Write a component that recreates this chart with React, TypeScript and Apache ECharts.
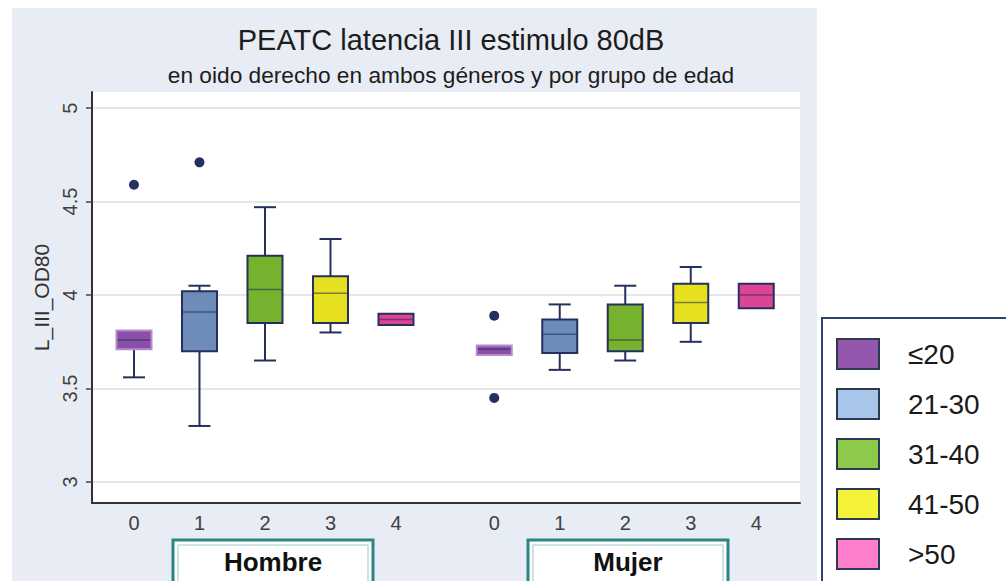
import React, { useEffect, useRef } from 'react';
import * as echarts from 'echarts';

const titleText = 'PEATC latencia III estimulo 80dB';
const subtitleText = 'en oido derecho en ambos géneros y por grupo de edad';
const yName = 'L_III_OD80';
const sexes = ['Hombre', 'Mujer'];
const ageGroups = ['≤20', '21-30', '31-40', '41-50', '>50'];
const tickLabels = ['0', '1', '2', '3', '4', '0', '1', '2', '3', '4'];
const xPositions = [0, 1, 2, 3, 4, 5.5, 6.5, 7.5, 8.5, 9.5];
const yTicks = [3, 3.5, 4, 4.5, 5];

// [min, Q1, median, Q3, max]
const hombreStats = [
  [3.56, 3.71, 3.76, 3.81, 3.81],
  [3.30, 3.70, 3.91, 4.02, 4.05],
  [3.65, 3.85, 4.03, 4.21, 4.47],
  [3.80, 3.85, 4.01, 4.10, 4.30],
  [3.84, 3.84, 3.87, 3.90, 3.90],
];
const mujerStats = [
  [3.68, 3.68, 3.71, 3.73, 3.73],
  [3.60, 3.69, 3.79, 3.87, 3.95],
  [3.65, 3.70, 3.76, 3.95, 4.05],
  [3.75, 3.85, 3.96, 4.06, 4.15],
  [3.93, 3.93, 4.00, 4.06, 4.06],
];
const outlierSex = [0, 0, 1, 1];
const outlierAge = [0, 1, 0, 0];
const outlierValues = [4.59, 4.71, 3.89, 3.45];

const FONT = '"Liberation Sans", Arial, sans-serif';
const boxColors = ['#8c4fa8', '#6d8cb7', '#77b22f', '#e6e01e', '#de4495'];
const legendColors = ['#9556ad', '#a9c5ea', '#8dca4b', '#f6f23a', '#ff7fcc'];
const NAVY = '#25305e';

export default function App() {
  const ref = useRef<HTMLDivElement>(null);

  useEffect(() => {
    if (!ref.current) return;
    const chart = echarts.init(ref.current, undefined, { renderer: 'svg' });

    const allStats = [hombreStats, mujerStats];
    const boxData: number[][] = [];
    allStats.forEach((stats, s) => {
      stats.forEach((st, a) => {
        boxData.push([xPositions[s * 5 + a], ...st, a]);
      });
    });
    const outlierData = outlierValues.map((v, i) => [xPositions[outlierSex[i] * 5 + outlierAge[i]], v]);

    const renderBox = (_params: any, api: any) => {
      const x = api.value(0);
      const lo = api.value(1), q1 = api.value(2), med = api.value(3), q3 = api.value(4), hi = api.value(5);
      const a = api.value(6);
      const pLo = api.coord([x, lo]);
      const pQ1 = api.coord([x, q1]);
      const pMed = api.coord([x, med]);
      const pQ3 = api.coord([x, q3]);
      const pHi = api.coord([x, hi]);
      const cx = pQ1[0];
      const hw = 17.5;
      const cw = 11;
      const children: any[] = [];
      const wStyle = { stroke: NAVY, lineWidth: 2 };
      if (hi > q3) {
        children.push({ type: 'line', shape: { x1: cx, y1: pQ3[1], x2: cx, y2: pHi[1] }, style: wStyle });
        children.push({ type: 'line', shape: { x1: cx - cw, y1: pHi[1], x2: cx + cw, y2: pHi[1] }, style: wStyle });
      }
      if (lo < q1) {
        children.push({ type: 'line', shape: { x1: cx, y1: pQ1[1], x2: cx, y2: pLo[1] }, style: wStyle });
        children.push({ type: 'line', shape: { x1: cx - cw, y1: pLo[1], x2: cx + cw, y2: pLo[1] }, style: wStyle });
      }
      children.push({
        type: 'rect',
        shape: { x: cx - hw, y: pQ3[1], width: hw * 2, height: pQ1[1] - pQ3[1] },
        style: { fill: boxColors[a], stroke: a === 0 ? '#b58ccc' : NAVY, lineWidth: 2 },
      });
      children.push({
        type: 'line',
        shape: { x1: cx - hw + 1, y1: pMed[1], x2: cx + hw - 1, y2: pMed[1] },
        style: { stroke: 'rgba(30,40,80,0.55)', lineWidth: 1.5 },
      });
      return { type: 'group', children };
    };

    const boxTab = (cx: number, label: string) => ({
      type: 'group',
      children: [
        { type: 'rect', shape: { x: cx - 100, y: 540, width: 200, height: 50 }, style: { fill: '#ffffff', stroke: '#2b8585', lineWidth: 3 } },
        { type: 'rect', shape: { x: cx - 95, y: 545, width: 190, height: 45 }, style: { fill: 'none', stroke: '#9cc9c9', lineWidth: 1 } },
        { type: 'text', x: cx, y: 562, style: { text: label, font: `bold 26px ${FONT}`, fill: '#111', align: 'center', verticalAlign: 'middle' } },
      ],
    });

    chart.setOption({
      animation: false,
      backgroundColor: '#ffffff',
      title: {
        text: titleText,
        subtext: subtitleText,
        left: 451,
        top: 25,
        padding: 0,
        itemGap: 9,
        textAlign: 'center',
        textStyle: { fontSize: 29, fontWeight: 'normal', color: '#1c1c1c', fontFamily: FONT },
        subtextStyle: { fontSize: 22.7, color: '#1c1c1c', fontFamily: FONT },
      },
      graphic: [
        { type: 'rect', z: -1, shape: { x: 12, y: 8, width: 805, height: 573 }, style: { fill: '#e8ecf4' } },
        { type: 'rect', z: 0, shape: { x: 822, y: 318, width: 200, height: 280 }, style: { fill: '#ffffff', stroke: '#2c4270', lineWidth: 2 } },
        boxTab(273, sexes[0]),
        boxTab(628, sexes[1]),
      ],
      legend: {
        data: ageGroups.map((n, i) => ({
          name: n,
          icon: 'rect',
          itemStyle: { color: legendColors[i], borderColor: '#2c3a50', borderWidth: 2, opacity: 1 },
        })),
        orient: 'vertical',
        left: 836,
        top: 338,
        padding: 0,
        itemWidth: 42,
        itemHeight: 30,
        itemGap: 18,
        selectedMode: false,
        z: 5,
        textStyle: { fontSize: 28, color: '#1a1a1a', fontFamily: FONT, padding: [0, 0, 0, 24] },
      },
      grid: {
        left: 92,
        right: 206,
        top: 92,
        bottom: 78,
        show: true,
        backgroundColor: '#ffffff',
        borderWidth: 0,
      },
      xAxis: {
        type: 'value',
        min: -0.641,
        max: 10.168,
        splitLine: { show: false },
        axisTick: { show: false },
        axisLine: { show: true, onZero: false, lineStyle: { color: '#333', width: 2 } },
        axisLabel: {
          customValues: xPositions,
          formatter: (v: number) => tickLabels[xPositions.indexOf(v)] ?? '',
          fontSize: 20,
          color: '#404040',
          fontFamily: FONT,
          margin: 10,
        },
      },
      yAxis: {
        type: 'value',
        min: 2.888,
        max: 5.086,
        name: yName,
        nameLocation: 'middle',
        nameRotate: 90,
        nameGap: 40,
        nameTextStyle: { fontSize: 21, color: '#333', fontFamily: FONT },
        axisLine: { show: true, onZero: false, lineStyle: { color: '#333', width: 2 } },
        axisTick: { show: true, customValues: yTicks, length: 6, lineStyle: { color: '#444', width: 1.5 } },
        axisLabel: {
          customValues: yTicks,
          rotate: 90,
          fontSize: 20,
          color: '#404040',
          fontFamily: FONT,
          margin: 12,
          formatter: (v: number) => String(v),
        },
        splitLine: { show: true, lineStyle: { color: '#dedede', width: 1.5 } },
      },
      series: [
        {
          type: 'custom',
          name: 'boxes',
          renderItem: renderBox,
          data: boxData,
          encode: { x: 0, y: [1, 2, 3, 4, 5] },
          z: 3,
        },
        {
          type: 'scatter',
          name: 'outliers',
          data: outlierData,
          symbol: 'circle',
          symbolSize: 10,
          itemStyle: { color: NAVY, opacity: 1 },
          z: 4,
        },
        ...ageGroups.map((n, i) => ({
          type: 'scatter',
          name: n,
          data: [],
          itemStyle: { color: legendColors[i], opacity: 1 },
        })),
      ],
    });

    return () => chart.dispose();
  }, []);

  return <div ref={ref} style={{ position: 'absolute', left: 0, top: 0, width: 1006, height: 581 }} />;
}
